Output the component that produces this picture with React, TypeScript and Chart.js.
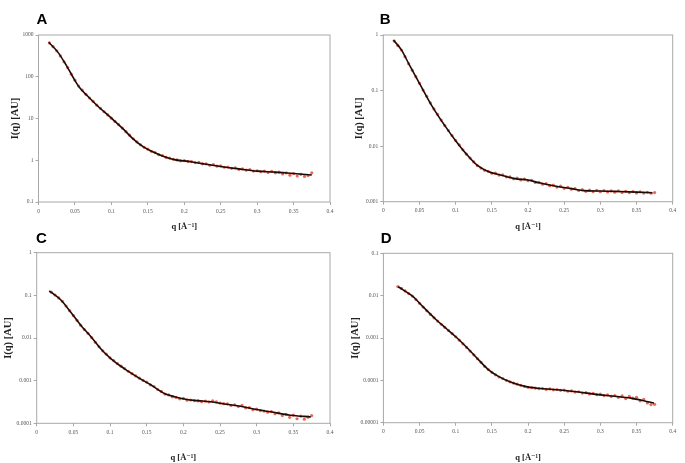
import React, { useEffect, useRef } from "react";
import { Chart, registerables } from "chart.js";

Chart.register(...registerables);

// ---------- data ----------
const qExp = [
  0.015, 0.02, 0.025, 0.03, 0.035, 0.04, 0.045, 0.05, 0.055, 0.06,
  0.065, 0.07, 0.075, 0.08, 0.085, 0.09, 0.095, 0.1, 0.105, 0.11,
  0.115, 0.12, 0.125, 0.13, 0.135, 0.14, 0.145, 0.15, 0.155, 0.16,
  0.165, 0.17, 0.175, 0.18, 0.185, 0.19, 0.195, 0.2, 0.205, 0.21,
  0.215, 0.22, 0.225, 0.23, 0.235, 0.24, 0.245, 0.25, 0.255, 0.26,
  0.265, 0.27, 0.275, 0.28, 0.285, 0.29, 0.295, 0.3, 0.305, 0.31,
  0.315, 0.32, 0.325, 0.33, 0.335, 0.34, 0.345, 0.35, 0.355, 0.36,
  0.365, 0.37, 0.375,
];

const expA = [
  645, 525, 417, 316, 229, 166, 115, 83, 60, 48,
  38, 31, 25.7, 20.9, 17.4, 14.5, 12.2, 10.2, 8.5, 7.1,
  5.9, 4.84, 3.98, 3.27, 2.75, 2.34, 2.04, 1.84, 1.64, 1.53,
  1.36, 1.3, 1.17, 1.13, 1.05, 1.02, 0.97, 0.98, 0.93, 0.93,
  0.88, 0.89, 0.82, 0.82, 0.76, 0.79, 0.72, 0.73, 0.68, 0.69,
  0.64, 0.66, 0.6, 0.62, 0.58, 0.6, 0.55, 0.56, 0.53, 0.55,
  0.51, 0.54, 0.5, 0.52, 0.47, 0.5, 0.44, 0.48, 0.42, 0.46,
  0.41, 0.43, 0.5,
];

const expB = [
  0.776, 0.645, 0.537, 0.407, 0.305, 0.232, 0.178, 0.135, 0.102, 0.079,
  0.06, 0.0468, 0.0372, 0.0295, 0.0234, 0.0191, 0.0155, 0.0126, 0.0105, 0.0086,
  0.00716, 0.0061, 0.00519, 0.00447, 0.00403, 0.00367, 0.00352, 0.00325, 0.00326, 0.00302,
  0.00305, 0.0028, 0.00279, 0.00258, 0.00266, 0.00247, 0.00256, 0.00238, 0.00241, 0.00222,
  0.00223, 0.00207, 0.00211, 0.00194, 0.00198, 0.00183, 0.0019, 0.00174, 0.00182, 0.00168,
  0.00172, 0.00159, 0.00165, 0.00154, 0.00161, 0.00152, 0.0016, 0.00151, 0.00158, 0.0015,
  0.00157, 0.00148, 0.00156, 0.00147, 0.00154, 0.00146, 0.00152, 0.00144, 0.00151, 0.00143,
  0.00148, 0.00142, 0.00146,
];

const expC = [
  null, 0.119, 0.102, 0.087, 0.0724, 0.0562, 0.0437, 0.0335, 0.026, 0.02,
  0.0158, 0.0129, 0.0102, 0.0079, 0.00624, 0.005, 0.00417, 0.00343, 0.00295, 0.00251,
  0.00219, 0.00191, 0.00166, 0.00146, 0.00129, 0.00114, 0.00101, 0.00092, 0.0008, 0.00073,
  0.00062, 0.00056, 0.000485, 0.000462, 0.000418, 0.000405, 0.000375, 0.000382, 0.000348, 0.000352,
  0.000338, 0.000335, 0.000322, 0.00033, 0.000316, 0.000335, 0.000318, 0.000298, 0.000289, 0.000286,
  0.000262, 0.000272, 0.000248, 0.000262, 0.000229, 0.000232, 0.000209, 0.000214, 0.000198, 0.000193,
  0.000182, 0.000188, 0.000168, 0.000176, 0.000152, 0.000162, 0.000138, 0.000156, 0.000128, 0.000148,
  0.000125, 0.000139, 0.000152,
];

const expD = [
  null, 0.0164, 0.0148, 0.0129, 0.0112, 0.0098, 0.0081, 0.0066, 0.0054, 0.0044,
  0.0036, 0.003, 0.00251, 0.00211, 0.00178, 0.00151, 0.00127, 0.00107, 0.00089, 0.00073,
  0.0006, 0.00049, 0.0004, 0.000324, 0.000266, 0.000214, 0.00018, 0.000155, 0.000135, 0.00012,
  0.00011, 0.0001, 0.0000923, 0.000086, 0.0000813, 0.0000759, 0.0000716, 0.0000684, 0.0000668, 0.0000653,
  0.0000635, 0.0000642, 0.0000612, 0.0000626, 0.0000596, 0.0000608, 0.0000582, 0.0000588, 0.0000553, 0.0000562,
  0.0000528, 0.0000538, 0.0000502, 0.0000512, 0.0000478, 0.0000492, 0.0000458, 0.0000472, 0.0000438, 0.0000452,
  0.0000418, 0.0000436, 0.0000398, 0.0000428, 0.0000372, 0.0000418, 0.0000382, 0.0000398, 0.0000328, 0.0000355,
  0.0000292, 0.0000268, 0.0000272,
];

const fitQA = [0.014, 0.026, 0.038, 0.047, 0.056, 0.07, 0.083, 0.1, 0.115, 0.129, 0.143, 0.156, 0.17, 0.188, 0.2, 0.211, 0.225, 0.25, 0.275, 0.3, 0.325, 0.35, 0.375];
const fitIA = [668, 400, 190, 100, 56, 31, 18.6, 10.2, 5.9, 3.35, 2.14, 1.62, 1.27, 1.02, 0.965, 0.91, 0.83, 0.71, 0.62, 0.55, 0.52, 0.48, 0.445];

const fitQB = [0.014, 0.025, 0.036, 0.05, 0.068, 0.086, 0.1, 0.114, 0.13, 0.145, 0.163, 0.182, 0.2, 0.215, 0.24, 0.26, 0.277, 0.3, 0.325, 0.35, 0.372];
const fitIB = [0.81, 0.54, 0.29, 0.135, 0.051, 0.0224, 0.0125, 0.0074, 0.0045, 0.0035, 0.003, 0.0026, 0.00245, 0.0022, 0.00188, 0.00172, 0.00158, 0.00156, 0.00153, 0.00149, 0.00145];

const fitQC = [0.017, 0.033, 0.046, 0.06, 0.074, 0.087, 0.101, 0.119, 0.1375, 0.156, 0.174, 0.188, 0.205, 0.22, 0.237, 0.258, 0.278, 0.3, 0.319, 0.346, 0.374];
const fitIC = [0.128, 0.0776, 0.0412, 0.02, 0.0107, 0.0057, 0.0033, 0.00194, 0.00121, 0.00079, 0.0005, 0.00042, 0.00036, 0.00034, 0.00032, 0.00028, 0.00025, 0.00021, 0.000186, 0.000155, 0.000141];

const fitQD = [0.0204, 0.041, 0.0545, 0.073, 0.0865, 0.1, 0.114, 0.132, 0.1455, 0.159, 0.1775, 0.196, 0.214, 0.245, 0.27, 0.294, 0.32, 0.342, 0.36, 0.374];
const fitID = [0.0162, 0.0095, 0.0055, 0.0027, 0.0017, 0.00107, 0.00063, 0.0003, 0.000177, 0.000124, 0.000089, 0.000072, 0.000065, 0.000059, 0.000053, 0.0000467, 0.000042, 0.000038, 0.000033, 0.000029];

const xTicks = [0, 0.05, 0.1, 0.15, 0.2, 0.25, 0.3, 0.35, 0.4];
const yTicksA = [0.1, 1, 10, 100, 1000];
const yTicksB = [0.001, 0.01, 0.1, 1];
const yTicksC = [0.0001, 0.001, 0.01, 0.1, 1];
const yTicksD = [0.00001, 0.0001, 0.001, 0.01, 0.1];

const panelLetters = ["A", "B", "C", "D"];
const xTitle = "q [Å⁻¹]";
const yTitle = "I(q) [AU]";

// ---------- layout ----------
const layouts = [
  { left: 0, top: 0, w: 342, h: 232, axisW: 38.5, padTop: 35, padRight: 12, xAxisH: 30, yTitlePad: 8.7, xTitlePad: 0.5, lx: 36.5, ly: 11.4 },
  { left: 342, top: 0, w: 343, h: 232, axisW: 41.3, padTop: 35, padRight: 12.3, xAxisH: 30.3, yTitlePad: 10.7, xTitlePad: 0.5, lx: 379.7, ly: 11.4 },
  { left: 0, top: 232, w: 342, h: 231, axisW: 36.7, padTop: 20.7, padRight: 12, xAxisH: 39.7, yTitlePad: 2, xTitlePad: 10.2, lx: 36, ly: 229.7 },
  { left: 342, top: 232, w: 343, h: 231, axisW: 41.4, padTop: 21.3, padRight: 12.3, xAxisH: 40.3, yTitlePad: 6.7, xTitlePad: 10.2, lx: 380.7, ly: 230.3 },
];

const panelData = [
  { exp: expA, fitQ: fitQA, fitI: fitIA, yTicks: yTicksA },
  { exp: expB, fitQ: fitQB, fitI: fitIB, yTicks: yTicksB },
  { exp: expC, fitQ: fitQC, fitI: fitIC, yTicks: yTicksC },
  { exp: expD, fitQ: fitQD, fitI: fitID, yTicks: yTicksD },
];

const SERIF = '"Liberation Serif", "DejaVu Serif", serif';

function pairs(xs: number[], ys: (number | null)[]) {
  const out: { x: number; y: number }[] = [];
  xs.forEach((x, i) => {
    const y = ys[i];
    if (y !== null && y !== undefined) out.push({ x, y });
  });
  return out;
}

const boxPlugin = {
  id: "boxBorder",
  beforeDatasetsDraw(chart: any) {
    const { ctx, chartArea } = chart;
    ctx.save();
    ctx.strokeStyle = "#a8a8a8";
    ctx.lineWidth = 1;
    ctx.strokeRect(chartArea.left, chartArea.top, chartArea.right - chartArea.left, chartArea.bottom - chartArea.top);
    ctx.restore();
  },
};

function Panel({ idx }: { idx: number }) {
  const ref = useRef<HTMLCanvasElement | null>(null);
  const L = layouts[idx];
  const D = panelData[idx];

  useEffect(() => {
    if (!ref.current) return;
    const yT = D.yTicks;
    const chart = new Chart(ref.current, {
      type: "scatter",
      data: {
        datasets: [
          {
            data: pairs(qExp, D.exp),
            showLine: false,
            pointRadius: 1.6,
            pointBorderWidth: 0,
            pointBackgroundColor: "rgba(232,80,58,0.85)",
            pointBorderColor: "rgba(232,80,58,0.85)",
            order: 2,
          },
          {
            data: pairs(D.fitQ, D.fitI),
            showLine: true,
            pointRadius: 0,
            borderColor: "#1c0c08",
            borderWidth: 1.6,
            cubicInterpolationMode: "monotone",
            order: 1,
          },
        ],
      } as any,
      options: {
        animation: false,
        responsive: false,
        layout: { padding: { top: L.padTop, right: L.padRight, left: 0, bottom: 0 } },
        plugins: { legend: { display: false }, tooltip: { enabled: false } },
        scales: {
          x: {
            type: "linear",
            min: 0,
            max: 0.4,
            afterBuildTicks: (s: any) => {
              s.ticks = xTicks.map((v) => ({ value: v }));
            },
            afterFit: (s: any) => {
              s.height = L.xAxisH;
            },
            ticks: {
              callback: (v: any) => String(v),
              font: { family: SERIF, size: 5.5 },
              color: "#555",
              padding: 3,
              autoSkip: false,
              maxRotation: 0,
            },
            grid: { drawOnChartArea: false, drawTicks: true, tickLength: 3, color: "#a8a8a8" },
            border: { display: false },
            title: {
              display: true,
              text: xTitle,
              font: { family: SERIF, size: 8.5, weight: "bold" },
              color: "#222",
              padding: { top: L.xTitlePad, bottom: 0 },
            },
          },
          y: {
            type: "logarithmic",
            min: yT[0],
            max: yT[yT.length - 1],
            afterBuildTicks: (s: any) => {
              s.ticks = yT.map((v) => ({ value: v }));
            },
            afterFit: (s: any) => {
              s.width = L.axisW;
            },
            ticks: {
              callback: (v: any) => String(v),
              font: { family: SERIF, size: 5.5 },
              color: "#555",
              padding: 2,
              autoSkip: false,
            },
            grid: { drawOnChartArea: false, drawTicks: true, tickLength: 3, color: "#a8a8a8" },
            border: { display: false },
            title: {
              display: true,
              text: yTitle,
              font: { family: SERIF, size: 10.5, weight: "bold" },
              color: "#222",
              padding: { top: L.yTitlePad, bottom: 0 },
            },
          },
        },
      } as any,
      plugins: [boxPlugin],
    });
    return () => chart.destroy();
  }, []);

  return (
    <canvas
      ref={ref}
      width={L.w}
      height={L.h}
      style={{ position: "absolute", left: L.left, top: L.top, width: L.w, height: L.h }}
    />
  );
}

export default function App() {
  useEffect(() => {
    document.body.style.margin = "0";
    document.body.style.background = "#ffffff";
  }, []);
  return (
    <div style={{ position: "relative", width: 685, height: 463, background: "#fff", overflow: "hidden" }}>
      {layouts.map((_, i) => (
        <Panel key={i} idx={i} />
      ))}
      {layouts.map((L, i) => (
        <div
          key={"l" + i}
          style={{
            position: "absolute",
            left: L.lx,
            top: L.ly,
            font: 'bold 15px "Liberation Sans", Arial, sans-serif',
            lineHeight: "15px",
            color: "#000",
          }}
        >
          {panelLetters[i]}
        </div>
      ))}
    </div>
  );
}
